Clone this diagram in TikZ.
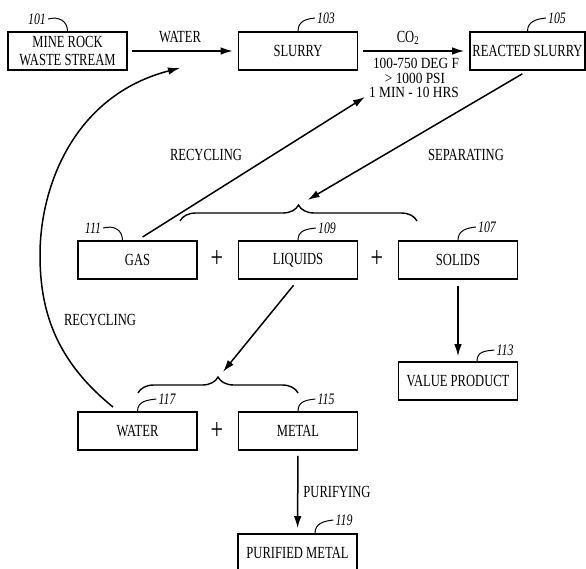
\documentclass[tikz,border=0pt]{standalone}
\usepackage{fontspec}
\setmainfont{Liberation Serif}[FakeStretch=0.74]
\newfontfamily\condfont{Liberation Serif}[FakeStretch=0.86]
\usetikzlibrary{arrows.meta,decorations.pathreplacing}

\begin{document}
\begin{tikzpicture}[x=1pt,y=-1pt,
  box/.style={draw, line width=1.6pt, minimum width=119pt, minimum height=38pt,
    inner sep=0pt, align=center, font=\fontsize{17}{17.5}\selectfont},
  reftag/.style={inner sep=0pt, font=\fontsize{16}{16}\selectfont\itshape},
  hook/.style={line width=1pt},
  flow/.style={line width=1.5pt, -{Latex[length=12pt,width=7.5pt]}},
  lbl/.style={inner sep=0pt, align=center, font=\fontsize{17}{14.5}\selectfont},
  cond/.style={inner sep=0pt, text height=10pt, text depth=1pt,
    font=\condfont\fontsize{15.5}{14.5}\selectfont},
  plus/.style={inner sep=0pt, font=\fontsize{30}{30}\selectfont},
  bracket/.style={line width=1.4pt, decorate, decoration={brace, amplitude=16pt}}]

\path[use as bounding box] (0,0) rectangle (586,568);
\clip (0,0) rectangle (586,568);

% process boxes
\node[box] (b101) at (67.5,51) {MINE ROCK\\WASTE STREAM};
\node[box] (b103) at (298,51) {SLURRY};
\node[box, minimum width=115pt] (b105) at (527.5,51) {REACTED SLURRY};
\node[box] (b111) at (137.5,260) {GAS};
\node[box] (b109) at (298,260) {LIQUIDS};
\node[box] (b107) at (458,260) {SOLIDS};
\node[box] (b113) at (458,381) {VALUE PRODUCT};
\node[box] (b117) at (137.5,431) {WATER};
\node[box] (b115) at (298,431) {METAL};
\node[box] (b119) at (297.5,553) {PURIFIED METAL};

% plus signs between products
\node[plus] (p1) at (217,259) {+};
\node[plus] (p2) at (377,259) {+};
\node[plus] (p3) at (217,431) {+};

% reference numerals with lead lines
\node[reftag] (r101) at (37,19) {101};
\node[reftag] (r103) at (326,18) {103};
\node[reftag] (r105) at (557,18) {105};
\node[reftag] (r111) at (93,228) {111};
\node[reftag] (r109) at (327,228) {109};
\node[reftag] (r107) at (487,227) {107};
\node[reftag] (r113) at (505,350) {113};
\node[reftag] (r117) at (167,399) {117};
\node[reftag] (r115) at (326,399) {115};
\node[reftag] (r119) at (344,520) {119};

\draw[hook] ([xshift=2pt]r101.east) .. controls +(11,-3) and +(0,-10) .. (b101.north);
\draw[hook] ([xshift=2pt]r111.east) .. controls +(11,-3) and +(0,-10) .. ([xshift=-15pt]b111.north);
\draw[hook] (b103.north) .. controls +(0,-10) and +(-9,1) .. ([xshift=-2pt]r103.west);
\draw[hook] (b105.north) .. controls +(0,-10) and +(-9,1) .. ([xshift=-2pt]r105.west);
\draw[hook] (b109.north) .. controls +(0,-10) and +(-9,1) .. ([xshift=-2pt]r109.west);
\draw[hook] (b107.north) .. controls +(0,-10) and +(-9,1) .. ([xshift=-2pt]r107.west);
\draw[hook] ([xshift=19pt]b113.north) .. controls +(0,-10) and +(-9,1) .. ([xshift=-2pt]r113.west);
\draw[hook] (b117.north) .. controls +(0,-10) and +(-9,1) .. ([xshift=-2pt]r117.west);
\draw[hook] (b115.north) .. controls +(0,-10) and +(-9,1) .. ([xshift=-2pt]r115.west);
\draw[hook] ([xshift=17.5pt]b119.north) .. controls +(0,-10) and +(-9,1) .. ([xshift=-2pt]r119.west);

% braces grouping the products
\draw[bracket] (180,221) -- (417,221);
\draw[bracket] (138,393) -- (298,393);
\coordinate (split1) at (299,205);
\coordinate (split2) at (218,378);

% free ends of the recycle lines
\coordinate (gasIn) at (365,97);
\coordinate (waterIn) at (180,68);
\coordinate (waterOut) at (113,407);
\coordinate (waterBend) at (40,255);

% main flow
\draw[flow, shorten <=4pt, shorten >=5pt] (b101) -- (b103);
\draw[flow, shorten <=5pt, shorten >=5pt] (b103) -- (b105);
\draw[flow, shorten <=6pt, shorten >=10pt] (b105.south) -- (split1);
\draw[flow, shorten <=7pt, shorten >=8pt] (b109.south) -- (split2);
\draw[flow, shorten <=6pt, shorten >=5pt] (b107) -- (b113);
\draw[flow, shorten <=5pt, shorten >=5pt] (b115) -- (b119);

% recycle lines
\draw[flow, shorten <=6pt] (b111.north) -- (gasIn);
\draw[flow] (waterOut) .. controls (55,360) and (40,310) .. (waterBend)
  .. controls (40,185) and (75,95) .. (waterIn);

% step labels
\node[lbl] (tWater) at (180,37) {WATER};
\node[lbl] (tCO2) at (408,38) {CO\textsubscript{2}};
\node[cond] (tCond1) at (416,64) {100-750 DEG F};
\node[cond] (tCond2) at (415,79) {> 1000 PSI};
\node[cond] (tCond3) at (414,93) {1 MIN - 10 HRS};
\node[lbl] (tRec1) at (206,155) {RECYCLING};
\node[lbl] (tSep) at (466,155) {SEPARATING};
\node[lbl] (tRec2) at (100,320) {RECYCLING};
\node[lbl] (tPur) at (337,492) {PURIFYING};

\end{tikzpicture}
\end{document}
